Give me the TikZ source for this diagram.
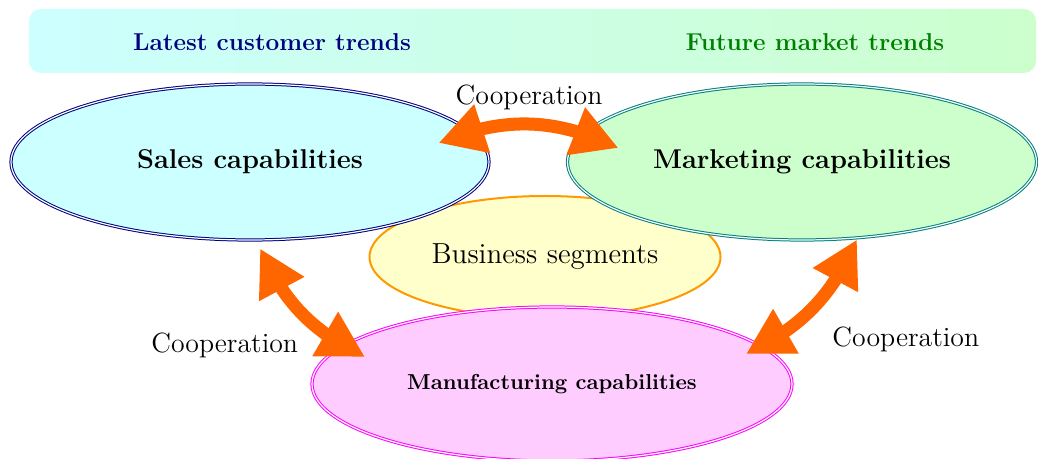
\documentclass[tikz,border=0pt]{standalone}
\usepackage{xcolor}
\usepackage{tikz}
\usetikzlibrary{positioning,arrows.meta,bending,shapes.geometric}
\definecolor{navy}{HTML}{000080}
\definecolor{darkgreen}{HTML}{008000}
\definecolor{tealline}{HTML}{008080}
\definecolor{salesfill}{HTML}{CCFFFF}
\definecolor{marketfill}{HTML}{CCFFCC}
\definecolor{segfill}{HTML}{FFFFCC}
\definecolor{segline}{HTML}{FF9900}
\definecolor{manufill}{HTML}{FFCCFF}
\definecolor{manuline}{HTML}{FF00FF}
\definecolor{coopline}{HTML}{FF6600}
\tikzset{
  banner/.style={rounded corners=6pt,draw=none,left color=salesfill,right color=marketfill,minimum width=503.5pt,minimum height=32pt},
  trend/.style={font=\fontsize{12.2}{14}\selectfont\bfseries,inner sep=0pt},
  capnode/.style={ellipse,double,line width=0.5pt,double distance=0.6pt,inner sep=0pt,align=center,font=\fontsize{13.6}{16}\selectfont\bfseries},
  sales/.style={capnode,draw=navy,fill=salesfill,minimum width=239pt,minimum height=78pt},
  market/.style={capnode,draw=tealline,fill=marketfill,minimum width=234.5pt,minimum height=78pt},
  manu/.style={capnode,draw=manuline,fill=manufill,minimum width=240pt,minimum height=77pt,font=\fontsize{10.8}{13}\selectfont\bfseries},
  segment/.style={ellipse,draw=segline,fill=segfill,line width=1pt,inner sep=0pt,minimum width=175.5pt,minimum height=61pt,font=\fontsize{14.5}{17}\selectfont},
  coop/.style={{Triangle[length=23pt,width=24pt]}-{Triangle[length=23pt,width=24pt]},draw=coopline,line width=6.5pt},
  cooplabel/.style={font=\fontsize{13.9}{16}\selectfont,inner sep=0pt}
}
\begin{document}
\begin{tikzpicture}[x=0.5pt,y=0.5pt]
  \useasboundingbox (0,0) rectangle (1038,-459);
  % trend banner
  \node[banner] (banner) at (532.5,-41) {};
  \node[trend,text=navy] (customer) at (272,-42) {Latest customer trends};
  \node[trend,text=darkgreen] (future) at (815,-42) {Future market trends};
  % capabilities
  \node[segment] (segments) at (545,-257) {Business segments};
  \node[sales] (sales) at (250,-162) {Sales capabilities};
  \node[market] (market) at (802,-162) {Marketing capabilities};
  \node[manu] (manu) at (552,-384) {Manufacturing capabilities};
  % cooperation links
  \draw[coop] ([xshift=-25.5pt,yshift=9.5pt]sales.east) to[bend left=24]
    node[cooplabel,midway,above=4pt]{Cooperation} ([xshift=25.75pt,yshift=7pt]market.west);
  \draw[coop] ([xshift=5pt,yshift=-4pt]sales.south) to[bend right=20]
    node[cooplabel,midway,below left=6.5pt and -1.5pt]{Cooperation} ([shift={(-93.5pt,13.5pt)}]manu.center);
  \draw[coop] ([xshift=27.5pt,yshift=0.5pt]market.south) to[bend left=20]
    node[cooplabel,midway,below right=6.5pt and 6.5pt]{Cooperation} ([shift={(97pt,15pt)}]manu.center);
\end{tikzpicture}
\end{document}
